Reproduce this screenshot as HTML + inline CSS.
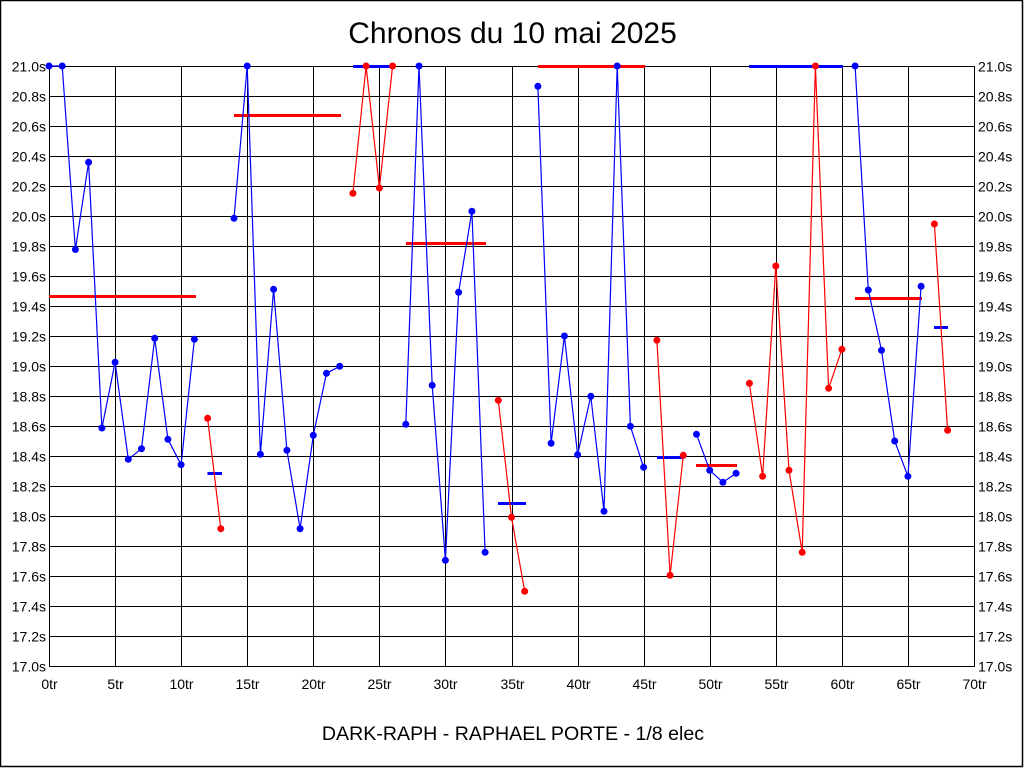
<!DOCTYPE html>
<html><head><meta charset="utf-8"><style>
html,body{margin:0;padding:0;background:#fff;}
svg{display:block;}
text{font-family:"Liberation Sans",Arial,sans-serif;fill:#000;}
</style></head><body>
<svg width="1024" height="768" viewBox="0 0 1024 768" xmlns="http://www.w3.org/2000/svg">
<rect x="0" y="0" width="1024" height="768" fill="#fff"/>
<rect x="0.5" y="0.5" width="1022" height="766" fill="none" stroke="#000" stroke-width="1.5"/>
<text x="512.5" y="43" font-size="30" text-anchor="middle">Chronos du 10 mai 2025</text>
<text x="513" y="740" font-size="19.6" text-anchor="middle">DARK-RAPH - RAPHAEL PORTE - 1/8 elec</text>
<g stroke="#000" stroke-width="1" shape-rendering="crispEdges">
<line x1="49" y1="66.5" x2="975" y2="66.5"/><line x1="49" y1="96.5" x2="975" y2="96.5"/><line x1="49" y1="126.5" x2="975" y2="126.5"/><line x1="49" y1="156.5" x2="975" y2="156.5"/><line x1="49" y1="186.5" x2="975" y2="186.5"/><line x1="49" y1="216.5" x2="975" y2="216.5"/><line x1="49" y1="246.5" x2="975" y2="246.5"/><line x1="49" y1="276.5" x2="975" y2="276.5"/><line x1="49" y1="306.5" x2="975" y2="306.5"/><line x1="49" y1="336.5" x2="975" y2="336.5"/><line x1="49" y1="366.5" x2="975" y2="366.5"/><line x1="49" y1="396.5" x2="975" y2="396.5"/><line x1="49" y1="426.5" x2="975" y2="426.5"/><line x1="49" y1="456.5" x2="975" y2="456.5"/><line x1="49" y1="486.5" x2="975" y2="486.5"/><line x1="49" y1="516.5" x2="975" y2="516.5"/><line x1="49" y1="546.5" x2="975" y2="546.5"/><line x1="49" y1="576.5" x2="975" y2="576.5"/><line x1="49" y1="606.5" x2="975" y2="606.5"/><line x1="49" y1="636.5" x2="975" y2="636.5"/><line x1="49" y1="666.5" x2="975" y2="666.5"/>
<line x1="49.5" y1="66" x2="49.5" y2="667"/><line x1="115.5" y1="66" x2="115.5" y2="667"/><line x1="181.5" y1="66" x2="181.5" y2="667"/><line x1="247.5" y1="66" x2="247.5" y2="667"/><line x1="313.5" y1="66" x2="313.5" y2="667"/><line x1="379.5" y1="66" x2="379.5" y2="667"/><line x1="445.5" y1="66" x2="445.5" y2="667"/><line x1="512.5" y1="66" x2="512.5" y2="667"/><line x1="578.5" y1="66" x2="578.5" y2="667"/><line x1="644.5" y1="66" x2="644.5" y2="667"/><line x1="710.5" y1="66" x2="710.5" y2="667"/><line x1="776.5" y1="66" x2="776.5" y2="667"/><line x1="842.5" y1="66" x2="842.5" y2="667"/><line x1="908.5" y1="66" x2="908.5" y2="667"/><line x1="974.5" y1="66" x2="974.5" y2="667"/>
</g>
<g font-size="14" text-anchor="end">
<text x="46" y="71.5">21.0s</text><text x="46" y="101.5">20.8s</text><text x="46" y="131.5">20.6s</text><text x="46" y="161.5">20.4s</text><text x="46" y="191.5">20.2s</text><text x="46" y="221.5">20.0s</text><text x="46" y="251.5">19.8s</text><text x="46" y="281.5">19.6s</text><text x="46" y="311.5">19.4s</text><text x="46" y="341.5">19.2s</text><text x="46" y="371.5">19.0s</text><text x="46" y="401.5">18.8s</text><text x="46" y="431.5">18.6s</text><text x="46" y="461.5">18.4s</text><text x="46" y="491.5">18.2s</text><text x="46" y="521.5">18.0s</text><text x="46" y="551.5">17.8s</text><text x="46" y="581.5">17.6s</text><text x="46" y="611.5">17.4s</text><text x="46" y="641.5">17.2s</text><text x="46" y="671.5">17.0s</text>
</g>
<g font-size="14" text-anchor="start">
<text x="978" y="71.5">21.0s</text><text x="978" y="101.5">20.8s</text><text x="978" y="131.5">20.6s</text><text x="978" y="161.5">20.4s</text><text x="978" y="191.5">20.2s</text><text x="978" y="221.5">20.0s</text><text x="978" y="251.5">19.8s</text><text x="978" y="281.5">19.6s</text><text x="978" y="311.5">19.4s</text><text x="978" y="341.5">19.2s</text><text x="978" y="371.5">19.0s</text><text x="978" y="401.5">18.8s</text><text x="978" y="431.5">18.6s</text><text x="978" y="461.5">18.4s</text><text x="978" y="491.5">18.2s</text><text x="978" y="521.5">18.0s</text><text x="978" y="551.5">17.8s</text><text x="978" y="581.5">17.6s</text><text x="978" y="611.5">17.4s</text><text x="978" y="641.5">17.2s</text><text x="978" y="671.5">17.0s</text>
</g>
<g font-size="14" text-anchor="middle">
<text x="49.5" y="689">0tr</text><text x="115.5" y="689">5tr</text><text x="181.5" y="689">10tr</text><text x="247.5" y="689">15tr</text><text x="313.5" y="689">20tr</text><text x="379.5" y="689">25tr</text><text x="445.5" y="689">30tr</text><text x="512.5" y="689">35tr</text><text x="578.5" y="689">40tr</text><text x="644.5" y="689">45tr</text><text x="710.5" y="689">50tr</text><text x="776.5" y="689">55tr</text><text x="842.5" y="689">60tr</text><text x="908.5" y="689">65tr</text><text x="974.5" y="689">70tr</text>
</g>
<!-- average lines -->
<g stroke-width="3" shape-rendering="crispEdges">
<line x1="49" y1="296.5" x2="196" y2="296.5" stroke="#f00"/>
<line x1="207.5" y1="473.5" x2="222" y2="473.5" stroke="#00f"/>
<line x1="234" y1="115.5" x2="341" y2="115.5" stroke="#f00"/>
<line x1="353" y1="66.5" x2="394" y2="66.5" stroke="#00f"/>
<line x1="406" y1="243.5" x2="486" y2="243.5" stroke="#f00"/>
<line x1="498" y1="503.5" x2="526" y2="503.5" stroke="#00f"/>
<line x1="538" y1="66.5" x2="645" y2="66.5" stroke="#f00"/>
<line x1="657" y1="457.5" x2="684" y2="457.5" stroke="#00f"/>
<line x1="696" y1="465.5" x2="737" y2="465.5" stroke="#f00"/>
<line x1="749" y1="66.5" x2="843" y2="66.5" stroke="#00f"/>
<line x1="855" y1="298.5" x2="922" y2="298.5" stroke="#f00"/>
<line x1="934" y1="327.5" x2="948" y2="327.5" stroke="#00f"/>
</g>
<!-- series lines -->
<g fill="none" stroke-width="1.2" stroke-linejoin="round">
<polyline stroke="#00f" points="49,66 62.2,66 75.4,249.5 88.6,162.3 101.9,428 115.1,362.3 128.3,459.3 141.5,448.7 154.7,338.3 167.9,439.3 181.1,464.7 194.4,339.3"/>
<polyline stroke="#f00" points="207.6,418.3 220.8,528.7"/>
<polyline stroke="#00f" points="234,218.3 247.2,66 260.4,454.3 273.6,289.3 286.9,450.3 300.1,528.7 313.3,435.3 326.5,373.3 339.7,366.3"/>
<polyline stroke="#f00" points="352.9,193.3 366.1,66 379.4,188 392.6,66"/>
<polyline stroke="#00f" points="405.8,424.3 419,66 432.2,385.3 445.4,560.3 458.6,292.3 471.9,211.3 485.1,552.3"/>
<polyline stroke="#f00" points="498.3,400.3 511.5,517.3 524.7,591.3"/>
<polyline stroke="#00f" points="537.9,86.3 551.1,443.3 564.4,336 577.6,454.7 590.8,396.3 604,511.3 617.2,66 630.4,426.3 643.6,467.3"/>
<polyline stroke="#f00" points="656.9,340.3 670.1,575.3 683.3,455.3"/>
<polyline stroke="#00f" points="696.5,434.3 709.7,470.3 722.9,482.3 736.1,473.3"/>
<polyline stroke="#f00" points="749.4,383.3 762.6,476.3 775.8,266 789,470.3 802.2,552.3 815.4,66 828.6,388.3 841.9,349.3"/>
<polyline stroke="#00f" points="855.1,66 868.3,290 881.5,350.3 894.7,441 907.9,476.3 921.1,286.3"/>
<polyline stroke="#f00" points="934.4,224 947.6,430.3"/>
</g>
<!-- markers -->
<g fill="#00f">
<circle cx="49" cy="66" r="3.5"/><circle cx="62.2" cy="66" r="3.5"/><circle cx="75.4" cy="249.5" r="3.5"/><circle cx="88.6" cy="162.3" r="3.5"/><circle cx="101.9" cy="428" r="3.5"/><circle cx="115.1" cy="362.3" r="3.5"/><circle cx="128.3" cy="459.3" r="3.5"/><circle cx="141.5" cy="448.7" r="3.5"/><circle cx="154.7" cy="338.3" r="3.5"/><circle cx="167.9" cy="439.3" r="3.5"/><circle cx="181.1" cy="464.7" r="3.5"/><circle cx="194.4" cy="339.3" r="3.5"/>
<circle cx="234" cy="218.3" r="3.5"/><circle cx="247.2" cy="66" r="3.5"/><circle cx="260.4" cy="454.3" r="3.5"/><circle cx="273.6" cy="289.3" r="3.5"/><circle cx="286.9" cy="450.3" r="3.5"/><circle cx="300.1" cy="528.7" r="3.5"/><circle cx="313.3" cy="435.3" r="3.5"/><circle cx="326.5" cy="373.3" r="3.5"/><circle cx="339.7" cy="366.3" r="3.5"/>
<circle cx="405.8" cy="424.3" r="3.5"/><circle cx="419" cy="66" r="3.5"/><circle cx="432.2" cy="385.3" r="3.5"/><circle cx="445.4" cy="560.3" r="3.5"/><circle cx="458.6" cy="292.3" r="3.5"/><circle cx="471.9" cy="211.3" r="3.5"/><circle cx="485.1" cy="552.3" r="3.5"/>
<circle cx="537.9" cy="86.3" r="3.5"/><circle cx="551.1" cy="443.3" r="3.5"/><circle cx="564.4" cy="336" r="3.5"/><circle cx="577.6" cy="454.7" r="3.5"/><circle cx="590.8" cy="396.3" r="3.5"/><circle cx="604" cy="511.3" r="3.5"/><circle cx="617.2" cy="66" r="3.5"/><circle cx="630.4" cy="426.3" r="3.5"/><circle cx="643.6" cy="467.3" r="3.5"/>
<circle cx="696.5" cy="434.3" r="3.5"/><circle cx="709.7" cy="470.3" r="3.5"/><circle cx="722.9" cy="482.3" r="3.5"/><circle cx="736.1" cy="473.3" r="3.5"/>
<circle cx="855.1" cy="66" r="3.5"/><circle cx="868.3" cy="290" r="3.5"/><circle cx="881.5" cy="350.3" r="3.5"/><circle cx="894.7" cy="441" r="3.5"/><circle cx="907.9" cy="476.3" r="3.5"/><circle cx="921.1" cy="286.3" r="3.5"/>
</g>
<g fill="#f00">
<circle cx="207.6" cy="418.3" r="3.5"/><circle cx="220.8" cy="528.7" r="3.5"/>
<circle cx="352.9" cy="193.3" r="3.5"/><circle cx="366.1" cy="66" r="3.5"/><circle cx="379.4" cy="188" r="3.5"/><circle cx="392.6" cy="66" r="3.5"/>
<circle cx="498.3" cy="400.3" r="3.5"/><circle cx="511.5" cy="517.3" r="3.5"/><circle cx="524.7" cy="591.3" r="3.5"/>
<circle cx="656.9" cy="340.3" r="3.5"/><circle cx="670.1" cy="575.3" r="3.5"/><circle cx="683.3" cy="455.3" r="3.5"/>
<circle cx="749.4" cy="383.3" r="3.5"/><circle cx="762.6" cy="476.3" r="3.5"/><circle cx="775.8" cy="266" r="3.5"/><circle cx="789" cy="470.3" r="3.5"/><circle cx="802.2" cy="552.3" r="3.5"/><circle cx="815.4" cy="66" r="3.5"/><circle cx="828.6" cy="388.3" r="3.5"/><circle cx="841.9" cy="349.3" r="3.5"/>
<circle cx="934.4" cy="224" r="3.5"/><circle cx="947.6" cy="430.3" r="3.5"/>
</g>
</svg>
</body></html>
